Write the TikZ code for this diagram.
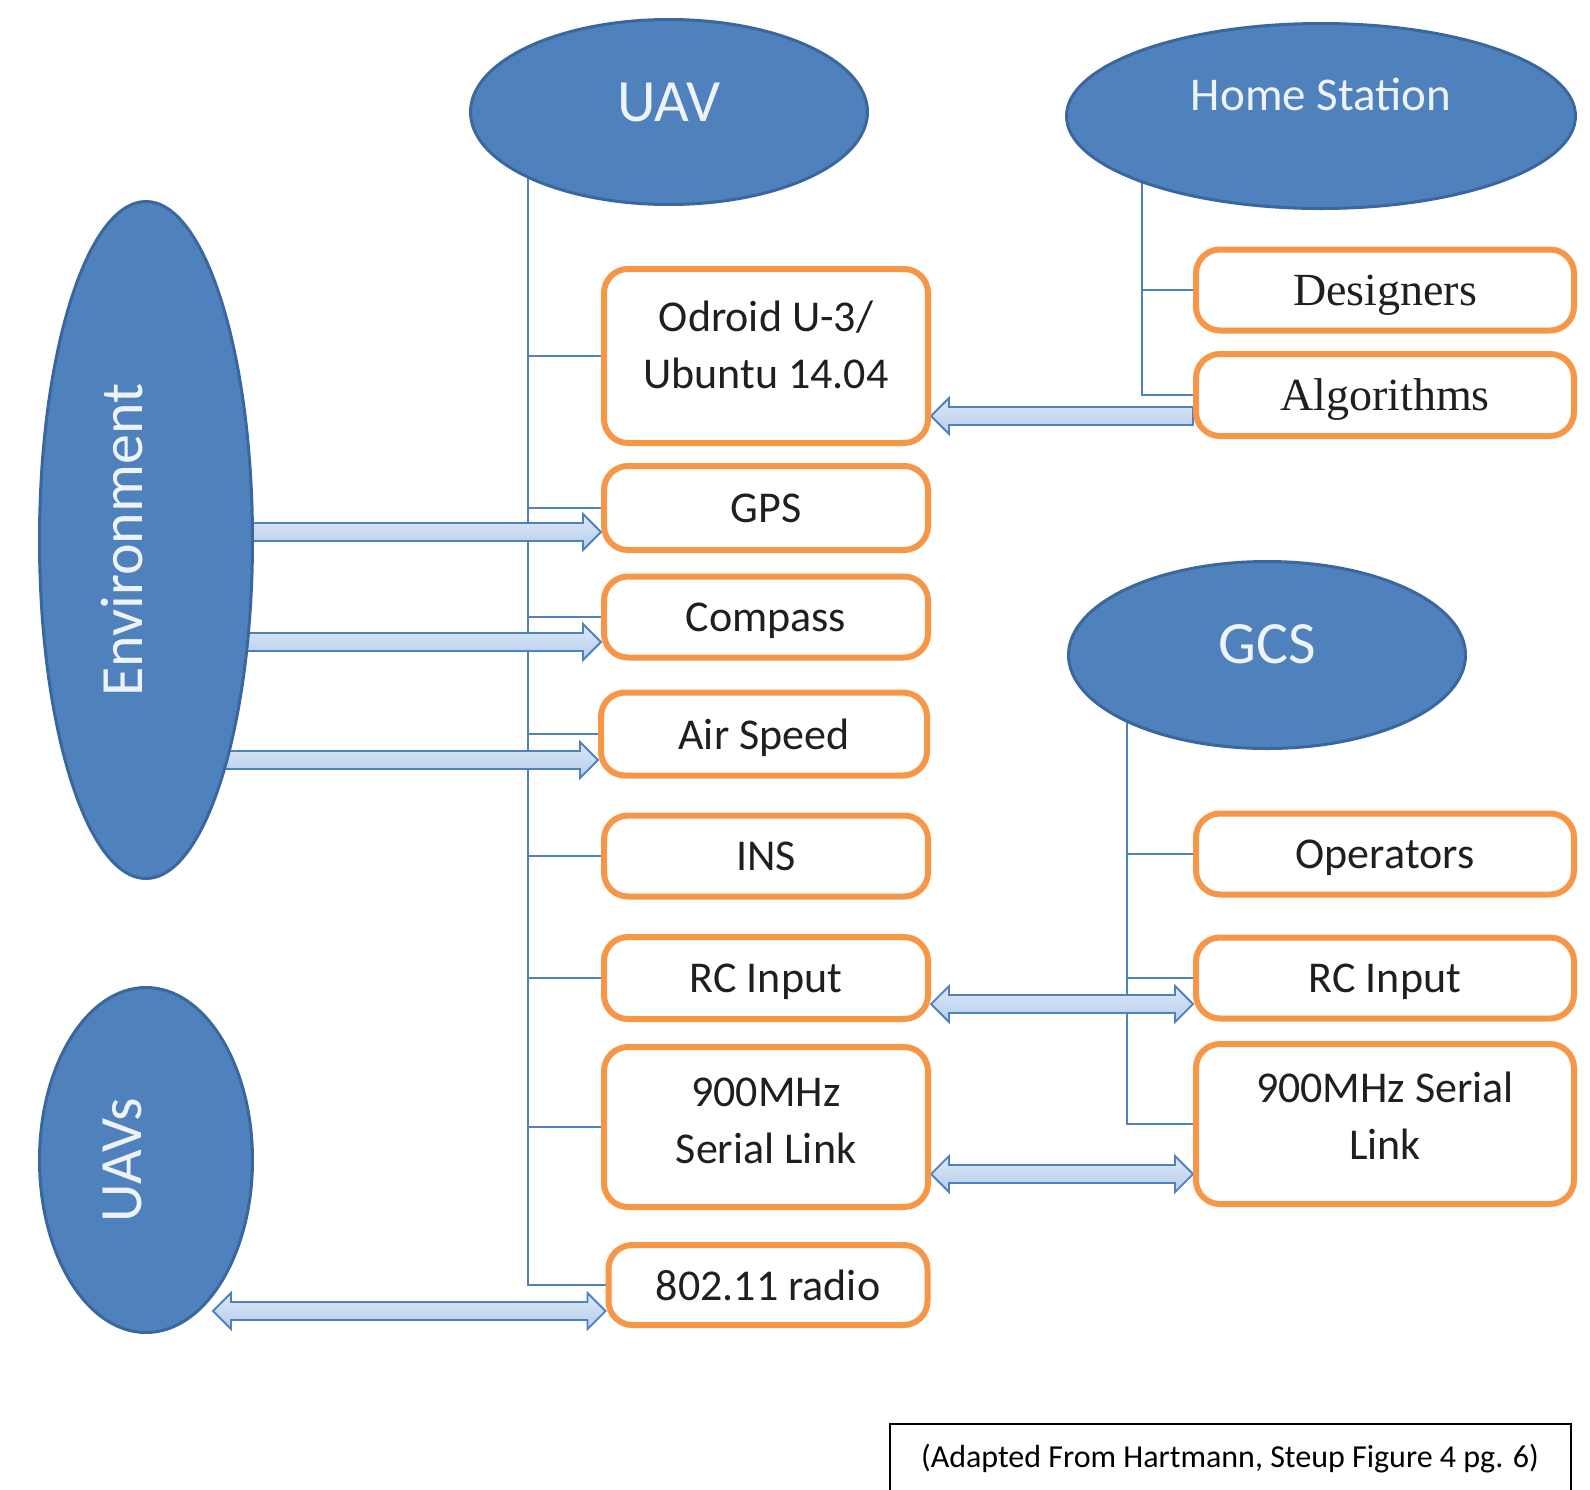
\documentclass[tikz,border=0pt]{standalone}
\usepackage{fontspec}
\setmainfont{Carlito}
\newfontfamily\bookface{Liberation Serif}
\usetikzlibrary{shapes.geometric,calc,backgrounds}
\definecolor{ovalblue}{HTML}{4F81BD}
\definecolor{ovalrim}{HTML}{3A679E}
\definecolor{ovaltext}{HTML}{EEF3FA}
\definecolor{boxorange}{HTML}{F79646}
\definecolor{linkblue}{HTML}{4F81BD}
\definecolor{arrowtop}{HTML}{DDE8F6}
\definecolor{arrowbot}{HTML}{B6CDEC}
\def\shaft{9pt}
\def\headw{18pt}
\def\headl{18pt}
\tikzstyle{oval} = [ellipse, draw=ovalrim, line width=3pt, fill=ovalblue, text=ovaltext, inner sep=0pt]
\tikzstyle{unit} = [rectangle, rounded corners=24pt, draw=boxorange, line width=6pt, fill=white, text=black!88, font=\fontsize{44}{57}\selectfont, align=center, inner sep=0pt, text depth=0pt]
\tikzstyle{branch} = [linkblue, line width=2.5pt]
\tikzstyle{blockarrow} = [draw=linkblue, line width=1.8pt, top color=arrowtop, bottom color=arrowbot, line join=miter]
\tikzstyle{cite} = [draw=black, line width=2pt, anchor=north, inner sep=0pt, font=\fontsize{32}{38}\selectfont]

% tail #1, tip #2, drop below the tip #3
\newcommand{\flowarrow}[3]{%
  \path[blockarrow] let \p1=(#1), \p2=(#2),
    \n1={ifthenelse(\x2>\x1,1,-1)*\headl}, \n2={\y2-#3} in
    ({\x1},{\n2+\shaft}) -- ({\x2-(\n1)},{\n2+\shaft}) -- ({\x2-(\n1)},{\n2+\headw})
    -- ({\x2},{\n2+0pt}) -- ({\x2-(\n1)},{\n2-\headw}) -- ({\x2-(\n1)},{\n2-\shaft})
    -- ({\x1},{\n2-\shaft}) -- cycle;}
\newcommand{\linkarrow}[3]{%
  \path[blockarrow] let \p1=(#1), \p2=(#2),
    \n1={ifthenelse(\x2>\x1,1,-1)*\headl}, \n2={\y2-#3} in
    ({\x1},{\n2+0pt}) -- ({\x1+(\n1)},{\n2+\headw}) -- ({\x1+(\n1)},{\n2+\shaft})
    -- ({\x2-(\n1)},{\n2+\shaft}) -- ({\x2-(\n1)},{\n2+\headw}) -- ({\x2},{\n2+0pt})
    -- ({\x2-(\n1)},{\n2-\headw}) -- ({\x2-(\n1)},{\n2-\shaft})
    -- ({\x1+(\n1)},{\n2-\shaft}) -- ({\x1+(\n1)},{\n2-\headw}) -- cycle;}

\begin{document}
\begin{tikzpicture}[x=1pt,y=-1pt]
\useasboundingbox (0,0) rectangle (1590,1489);

% ovals
\node[oval, minimum width=397pt, minimum height=185pt, font=\fontsize{60}{72}\selectfont, text depth=20pt] (uav) at (669,112) {UAV};
\node[oval, minimum width=509pt, minimum height=185pt, font=\fontsize{47}{56}\selectfont, text depth=44pt] (home) at (1321,116) {Home Station};
\node[oval, minimum width=397pt, minimum height=187pt, font=\fontsize{60}{72}\selectfont, text depth=22pt] (gcs) at (1267,655) {GCS};
\node[oval, rotate=90, minimum width=677pt, minimum height=213pt, font=\fontsize{60}{70}\selectfont, text depth=48pt] (env) at (146,540) {Environment};
\node[oval, rotate=90, minimum width=345pt, minimum height=213pt, font=\fontsize{60}{70}\selectfont, text depth=48pt] (uavs) at (146,1160) {UAVs};

% uav parts
\node[unit, minimum width=324pt, minimum height=174pt, text depth=22pt] (odroid) at (766,356) {Odroid U-3/\\Ubuntu 14.04};
\node[unit, minimum width=324pt, minimum height=84pt] (gps) at (766,508) {GPS};
\node[unit, minimum width=324pt, minimum height=81pt] (compass) at (766,617) {Compass};
\node[unit, minimum width=326pt, minimum height=83pt] (airspeed) at (764,734) {Air Speed};
\node[unit, minimum width=324pt, minimum height=81pt] (ins) at (766,856) {INS};
\node[unit, minimum width=324pt, minimum height=82pt] (rcin) at (766,978) {RC Input};
\node[unit, minimum width=324pt, minimum height=160pt, text depth=12pt] (serial) at (766,1127) {900MHz\\Serial Link};
\node[unit, minimum width=319pt, minimum height=80pt] (radio) at (768,1285) {802.11 radio};

% home station and gcs parts
\node[unit, minimum width=378pt, minimum height=81pt, font=\bookface\fontsize{46}{56}\selectfont] (designers) at (1385,290) {Designers};
\node[unit, minimum width=378pt, minimum height=82pt, font=\bookface\fontsize{46}{56}\selectfont] (algorithms) at (1385,395) {Algorithms};
\node[unit, minimum width=378pt, minimum height=81pt] (operators) at (1385,854) {Operators};
\node[unit, minimum width=378pt, minimum height=81pt] (rcgcs) at (1385,978) {RC Input};
\node[unit, minimum width=378pt, minimum height=160pt, text depth=16pt] (serialgcs) at (1385,1124) {900MHz Serial\\Link};

\node[cite, minimum width=681pt, minimum height=100pt, text depth=36pt] (source) at (1230,1423) {(Adapted From Hartmann, Steup Figure 4 pg. 6)};

\begin{scope}[on background layer]
  \fill[white] (0,0) rectangle (1590,1489);
  \coordinate (uavtrunk) at (528,112);
  \coordinate (hometrunk) at (1142,116);
  \coordinate (gcstrunk) at (1127,655);
  \coordinate (uavsedge) at ([xshift=67pt]uavs.center);
  \draw[branch] (uavtrunk) |- (radio.west);
  \foreach \u in {odroid,gps,compass,airspeed,ins,rcin,serial}
    \draw[branch] (\u.west -| uavtrunk) -- (\u.west);
  \draw[branch] (hometrunk) |- (algorithms.west);
  \draw[branch] (designers.west -| hometrunk) -- (designers.west);
  \draw[branch] (gcstrunk) |- (serialgcs.west);
  \foreach \g in {operators,rcgcs}
    \draw[branch] (\g.west -| gcstrunk) -- (\g.west);
  % block arrows
  \flowarrow{algorithms.west}{odroid.east |- algorithms.west}{21pt}
  \flowarrow{env.center |- gps.west}{gps.west}{24pt}
  \flowarrow{env.center |- compass.west}{compass.west}{25pt}
  \flowarrow{env.center |- airspeed.west}{airspeed.west}{26pt}
  \linkarrow{rcin.east}{rcgcs.west |- rcin.east}{26pt}
  \linkarrow{serial.east}{serialgcs.west |- serial.east}{47pt}
  \linkarrow{uavsedge |- radio.west}{radio.west}{26pt}
\end{scope}
\end{tikzpicture}
\end{document}
